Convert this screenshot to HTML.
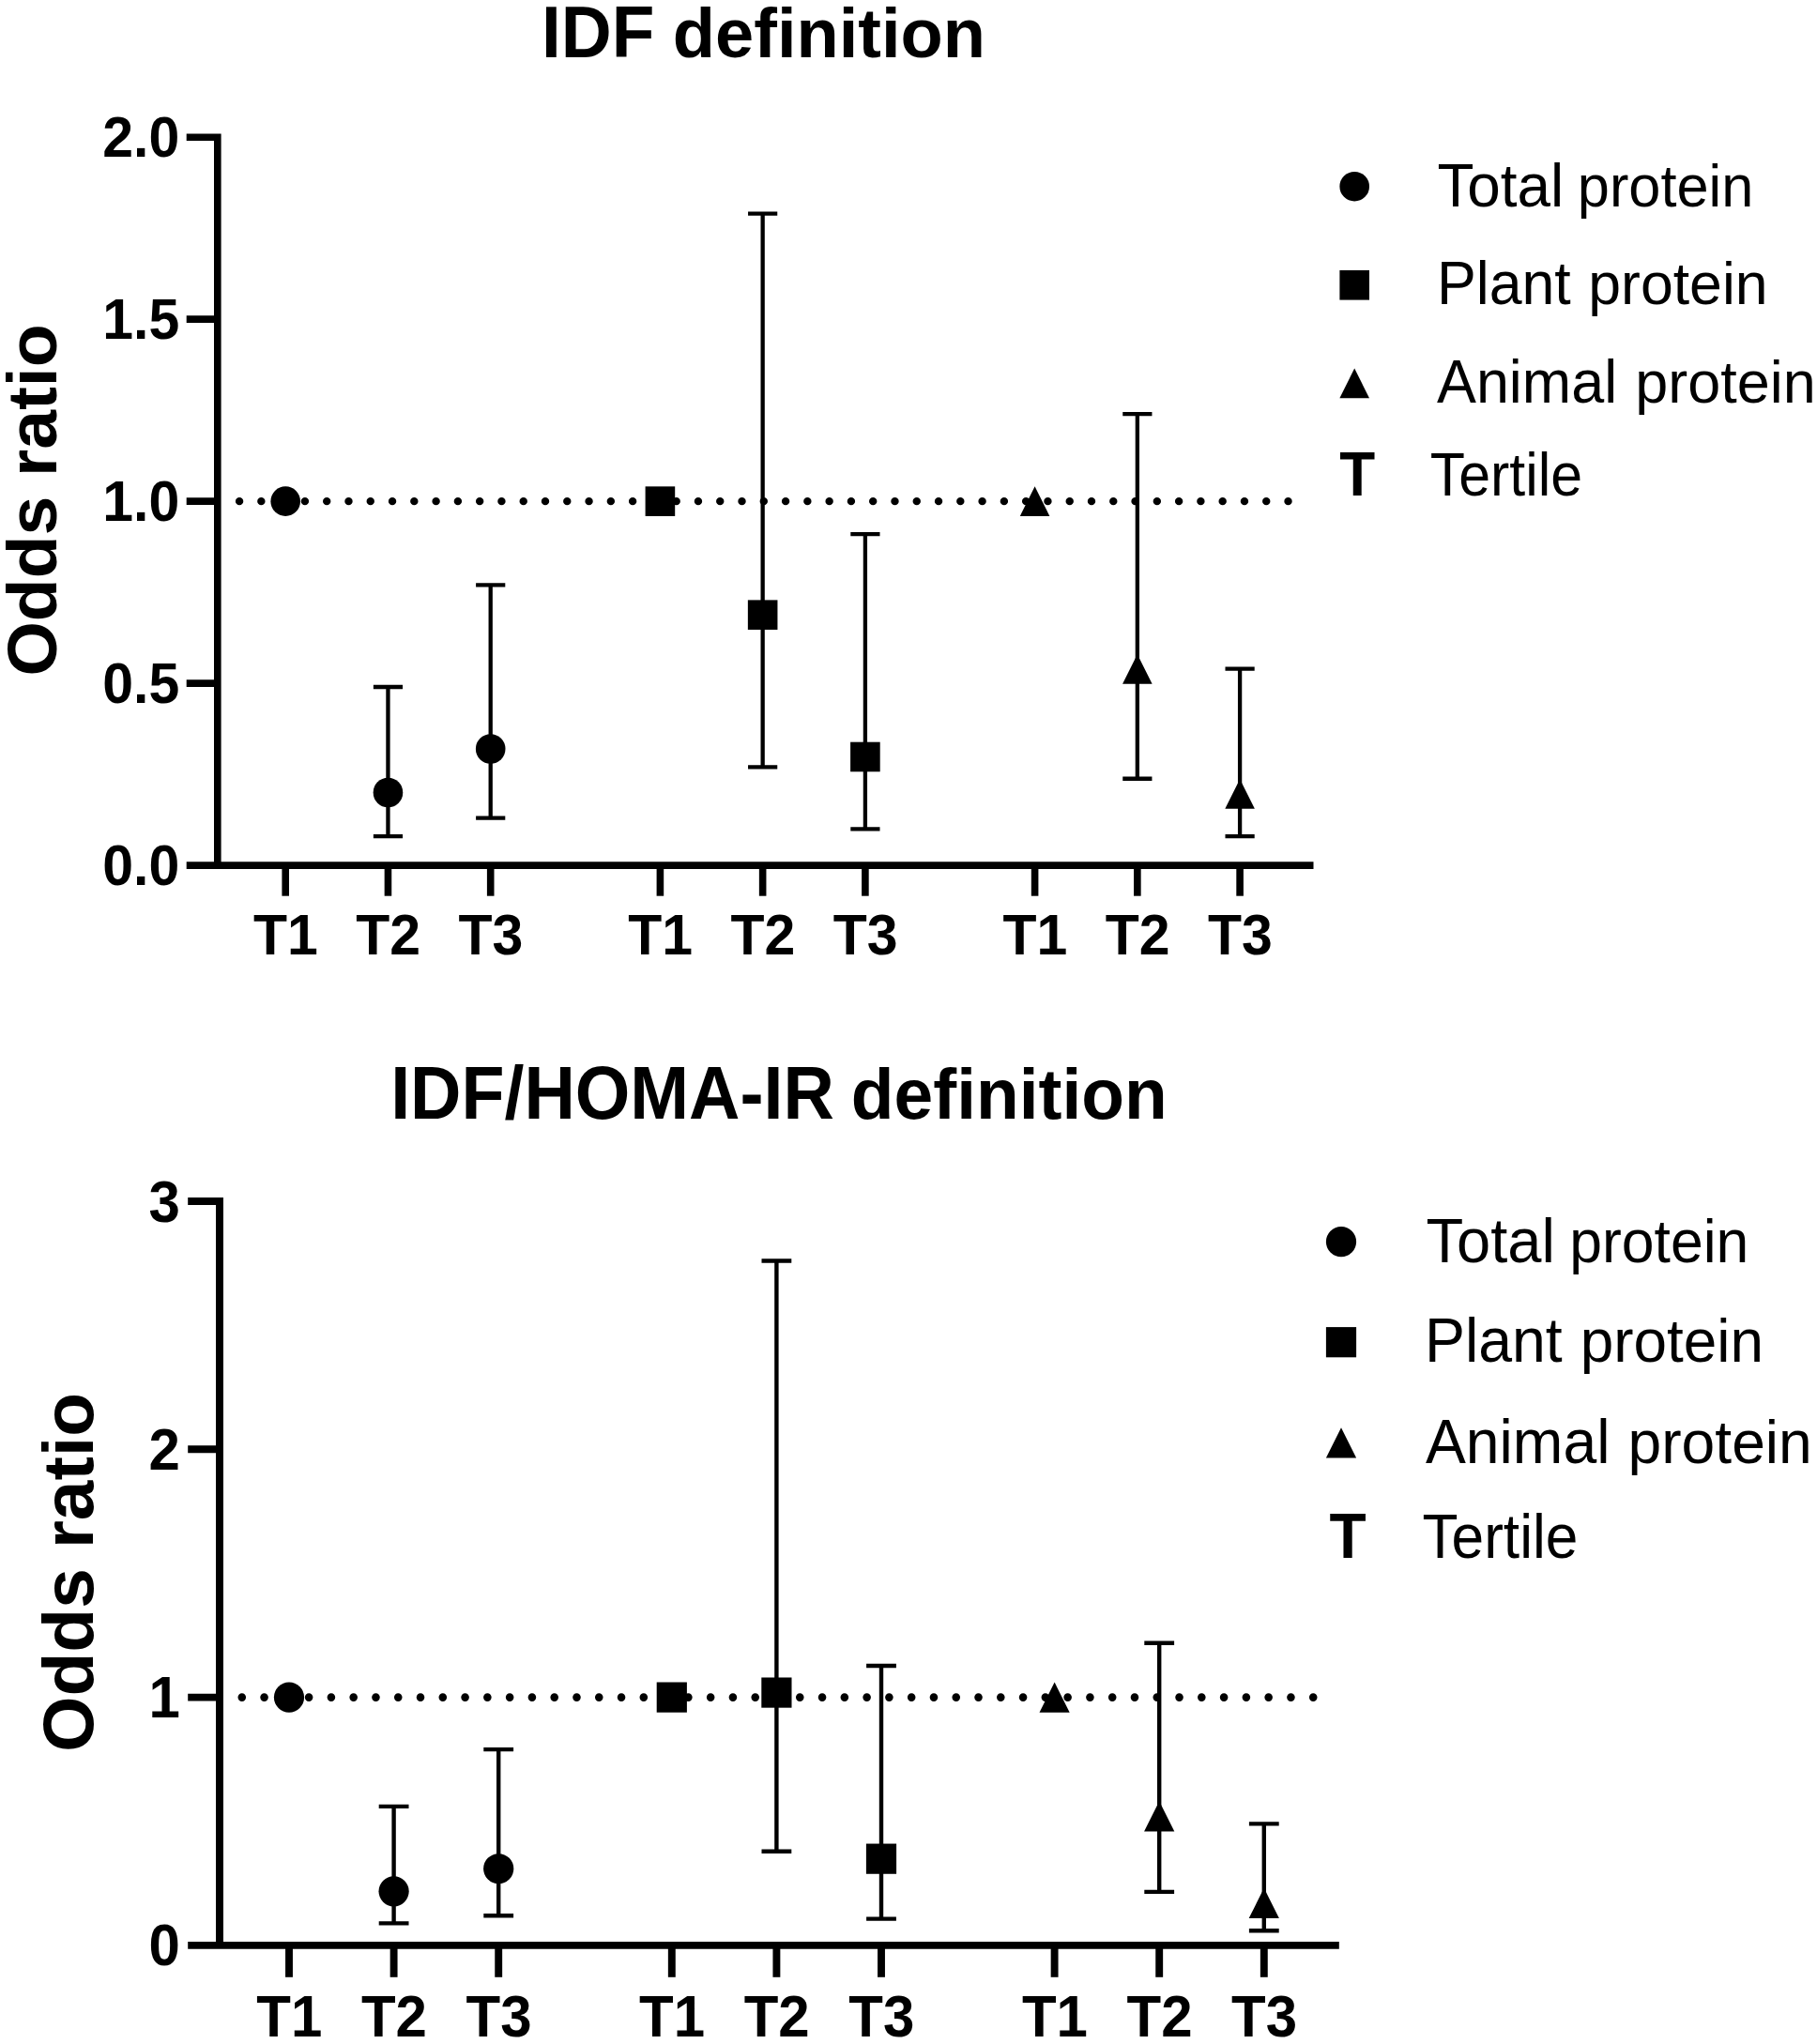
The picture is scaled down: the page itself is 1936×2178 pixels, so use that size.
<!DOCTYPE html>
<html lang="en"><head><meta charset="utf-8"><title>Odds ratio by protein tertile</title>
<style>html,body{margin:0;padding:0;background:#fff}svg{display:block}text{fill:#000}.t{font-family:"Liberation Sans",sans-serif}</style></head><body>
<svg xmlns="http://www.w3.org/2000/svg" width="1936" height="2178" viewBox="0 0 1936 2178">
<rect width="1936" height="2178" fill="#fff"/>
<g id="plot-idf">
<line x1="255.08" y1="534.15" x2="1372.53" y2="534.15" stroke="#000" stroke-width="8.4" stroke-linecap="round" stroke-dasharray="0 23.28"/>
<circle cx="304.20" cy="534.15" r="15.80" fill="#000"/>
<path d="M413.45 732.00V891.06M397.85 732.00H429.05M397.85 891.06H429.05" stroke="#000" stroke-width="4.3" fill="none"/>
<circle cx="413.45" cy="844.51" r="15.80" fill="#000"/>
<path d="M522.70 623.38V871.67M507.10 623.38H538.30M507.10 871.67H538.30" stroke="#000" stroke-width="4.3" fill="none"/>
<circle cx="522.70" cy="797.96" r="15.80" fill="#000"/>
<rect x="687.60" y="518.35" width="31.60" height="31.60" fill="#000"/>
<path d="M812.65 227.67V817.35M797.05 227.67H828.25M797.05 817.35H828.25" stroke="#000" stroke-width="4.3" fill="none"/>
<rect x="796.85" y="639.39" width="31.60" height="31.60" fill="#000"/>
<path d="M921.90 569.07V883.31M906.30 569.07H937.50M906.30 883.31H937.50" stroke="#000" stroke-width="4.3" fill="none"/>
<rect x="906.10" y="790.69" width="31.60" height="31.60" fill="#000"/>
<path d="M1102.60 518.35L1118.40 549.95H1086.80Z" fill="#000"/>
<path d="M1211.85 441.04V829.77M1196.25 441.04H1227.45M1196.25 829.77H1227.45" stroke="#000" stroke-width="4.3" fill="none"/>
<path d="M1211.85 697.19L1227.65 728.79H1196.05Z" fill="#000"/>
<path d="M1321.10 712.61V891.06M1305.50 712.61H1336.70M1305.50 891.06H1336.70" stroke="#000" stroke-width="4.3" fill="none"/>
<path d="M1321.10 830.26L1336.90 861.86H1305.30Z" fill="#000"/>
<path d="M198.70 146.20H231.80V922.10M198.70 922.10H1399.50" stroke="#000" stroke-width="7.6" fill="none" stroke-linejoin="miter"/>
<text transform="translate(191.20 943.10) scale(1 1.025)" class="t" font-weight="700" font-size="59" text-anchor="end">0.0</text>
<line x1="198.70" y1="728.12" x2="231.80" y2="728.12" stroke="#000" stroke-width="7.6"/>
<text transform="translate(191.20 749.12) scale(1 1.025)" class="t" font-weight="700" font-size="59" text-anchor="end">0.5</text>
<line x1="198.70" y1="534.15" x2="231.80" y2="534.15" stroke="#000" stroke-width="7.6"/>
<text transform="translate(191.20 555.15) scale(1 1.025)" class="t" font-weight="700" font-size="59" text-anchor="end">1.0</text>
<line x1="198.70" y1="340.17" x2="231.80" y2="340.17" stroke="#000" stroke-width="7.6"/>
<text transform="translate(191.20 361.17) scale(1 1.025)" class="t" font-weight="700" font-size="59" text-anchor="end">1.5</text>
<text transform="translate(191.20 167.20) scale(1 1.025)" class="t" font-weight="700" font-size="59" text-anchor="end">2.0</text>
<line x1="304.20" y1="922.10" x2="304.20" y2="954.70" stroke="#000" stroke-width="7.6"/>
<text transform="translate(304.50 1017.00) scale(1 1.025)" class="t" font-weight="700" font-size="59" text-anchor="middle">T1</text>
<line x1="413.45" y1="922.10" x2="413.45" y2="954.70" stroke="#000" stroke-width="7.6"/>
<text transform="translate(413.75 1017.00) scale(1 1.025)" class="t" font-weight="700" font-size="59" text-anchor="middle">T2</text>
<line x1="522.70" y1="922.10" x2="522.70" y2="954.70" stroke="#000" stroke-width="7.6"/>
<text transform="translate(523.00 1017.00) scale(1 1.025)" class="t" font-weight="700" font-size="59" text-anchor="middle">T3</text>
<line x1="703.40" y1="922.10" x2="703.40" y2="954.70" stroke="#000" stroke-width="7.6"/>
<text transform="translate(703.70 1017.00) scale(1 1.025)" class="t" font-weight="700" font-size="59" text-anchor="middle">T1</text>
<line x1="812.65" y1="922.10" x2="812.65" y2="954.70" stroke="#000" stroke-width="7.6"/>
<text transform="translate(812.95 1017.00) scale(1 1.025)" class="t" font-weight="700" font-size="59" text-anchor="middle">T2</text>
<line x1="921.90" y1="922.10" x2="921.90" y2="954.70" stroke="#000" stroke-width="7.6"/>
<text transform="translate(922.20 1017.00) scale(1 1.025)" class="t" font-weight="700" font-size="59" text-anchor="middle">T3</text>
<line x1="1102.60" y1="922.10" x2="1102.60" y2="954.70" stroke="#000" stroke-width="7.6"/>
<text transform="translate(1102.90 1017.00) scale(1 1.025)" class="t" font-weight="700" font-size="59" text-anchor="middle">T1</text>
<line x1="1211.85" y1="922.10" x2="1211.85" y2="954.70" stroke="#000" stroke-width="7.6"/>
<text transform="translate(1212.15 1017.00) scale(1 1.025)" class="t" font-weight="700" font-size="59" text-anchor="middle">T2</text>
<line x1="1321.10" y1="922.10" x2="1321.10" y2="954.70" stroke="#000" stroke-width="7.6"/>
<text transform="translate(1321.40 1017.00) scale(1 1.025)" class="t" font-weight="700" font-size="59" text-anchor="middle">T3</text>
<text transform="translate(0 61.00)" class="t" font-weight="700" font-size="75"><tspan x="576.97" font-size="78" textLength="120.42" lengthAdjust="spacingAndGlyphs">IDF</tspan> <tspan x="716.84" textLength="333.29" lengthAdjust="spacingAndGlyphs">definition</tspan></text>
<text transform="translate(60.30 533.00) rotate(-90)" class="t" font-weight="700" font-size="75" text-anchor="middle">Odds ratio</text>
<circle cx="1443.20" cy="198.70" r="15.80" fill="#000"/>
<rect x="1427.40" y="288.00" width="31.60" height="31.60" fill="#000"/>
<path d="M1443.20 392.60L1459.00 424.20H1427.40Z" fill="#000"/>
<text transform="translate(0 219.60)" class="t" font-size="62.4"><tspan x="1531.42" font-size="64.5" textLength="134.79" lengthAdjust="spacingAndGlyphs">Total</tspan> <tspan x="1680.87" textLength="187.39" lengthAdjust="spacingAndGlyphs">protein</tspan></text>
<text transform="translate(0 324.40)" class="t" font-size="62.4"><tspan x="1530.90" font-size="64.5" textLength="142.90" lengthAdjust="spacingAndGlyphs">Plant</tspan> <tspan x="1692.29" textLength="191.36" lengthAdjust="spacingAndGlyphs">protein</tspan></text>
<text transform="translate(0 429.40)" class="t" font-size="62.4"><tspan x="1530.96" font-size="64.5" textLength="192.14" lengthAdjust="spacingAndGlyphs">Animal</tspan> <tspan x="1742.37" textLength="192.40" lengthAdjust="spacingAndGlyphs">protein</tspan></text>
<text transform="translate(0 528.00)" class="t" font-size="62.4"><tspan x="1523.78" font-size="64.5" textLength="162.47" lengthAdjust="spacingAndGlyphs">Tertile</tspan></text>
<text transform="translate(0 528.00)" class="t" font-weight="700" font-size="66.2"><tspan x="1427.30" textLength="37.95" lengthAdjust="spacingAndGlyphs">T</tspan></text>
</g>
<g id="plot-idf-homa">
<line x1="257.78" y1="1808.60" x2="1399.23" y2="1808.60" stroke="#000" stroke-width="8.6" stroke-linecap="round" stroke-dasharray="0 23.78"/>
<circle cx="308.00" cy="1808.60" r="16.10" fill="#000"/>
<path d="M419.60 1924.89V2049.38M403.70 1924.89H435.50M403.70 2049.38H435.50" stroke="#000" stroke-width="4.4" fill="none"/>
<circle cx="419.60" cy="2015.28" r="16.10" fill="#000"/>
<path d="M531.20 1864.10V2041.18M515.30 1864.10H547.10M515.30 2041.18H547.10" stroke="#000" stroke-width="4.4" fill="none"/>
<circle cx="531.20" cy="1991.23" r="16.10" fill="#000"/>
<rect x="699.70" y="1792.50" width="32.20" height="32.20" fill="#000"/>
<path d="M827.40 1343.43V1972.73M811.50 1343.43H843.30M811.50 1972.73H843.30" stroke="#000" stroke-width="4.4" fill="none"/>
<rect x="811.30" y="1787.48" width="32.20" height="32.20" fill="#000"/>
<path d="M939.00 1775.03V2044.62M923.10 1775.03H954.90M923.10 2044.62H954.90" stroke="#000" stroke-width="4.4" fill="none"/>
<rect x="922.90" y="1964.56" width="32.20" height="32.20" fill="#000"/>
<path d="M1123.60 1792.50L1139.70 1824.70H1107.50Z" fill="#000"/>
<path d="M1235.20 1750.72V2015.89M1219.30 1750.72H1251.10M1219.30 2015.89H1251.10" stroke="#000" stroke-width="4.4" fill="none"/>
<path d="M1235.20 1919.36L1251.30 1951.56H1219.10Z" fill="#000"/>
<path d="M1346.80 1943.39V2057.31M1330.90 1943.39H1362.70M1330.90 2057.31H1362.70" stroke="#000" stroke-width="4.4" fill="none"/>
<path d="M1346.80 2011.87L1362.90 2044.07H1330.70Z" fill="#000"/>
<path d="M200.20 1280.00H234.00V2072.90M200.20 2072.90H1426.80" stroke="#000" stroke-width="7.9" fill="none" stroke-linejoin="miter"/>
<text transform="translate(192.00 2094.40) scale(1 1.045)" class="t" font-weight="700" font-size="60" text-anchor="end">0</text>
<line x1="200.20" y1="1808.60" x2="234.00" y2="1808.60" stroke="#000" stroke-width="7.9"/>
<text transform="translate(192.00 1830.10) scale(1 1.045)" class="t" font-weight="700" font-size="60" text-anchor="end">1</text>
<line x1="200.20" y1="1544.30" x2="234.00" y2="1544.30" stroke="#000" stroke-width="7.9"/>
<text transform="translate(192.00 1565.80) scale(1 1.045)" class="t" font-weight="700" font-size="60" text-anchor="end">2</text>
<text transform="translate(192.00 1301.50) scale(1 1.045)" class="t" font-weight="700" font-size="60" text-anchor="end">3</text>
<line x1="308.00" y1="2072.90" x2="308.00" y2="2106.80" stroke="#000" stroke-width="7.9"/>
<text transform="translate(308.30 2170.30) scale(1 1.045)" class="t" font-weight="700" font-size="60" text-anchor="middle">T1</text>
<line x1="419.60" y1="2072.90" x2="419.60" y2="2106.80" stroke="#000" stroke-width="7.9"/>
<text transform="translate(419.90 2170.30) scale(1 1.045)" class="t" font-weight="700" font-size="60" text-anchor="middle">T2</text>
<line x1="531.20" y1="2072.90" x2="531.20" y2="2106.80" stroke="#000" stroke-width="7.9"/>
<text transform="translate(531.50 2170.30) scale(1 1.045)" class="t" font-weight="700" font-size="60" text-anchor="middle">T3</text>
<line x1="715.80" y1="2072.90" x2="715.80" y2="2106.80" stroke="#000" stroke-width="7.9"/>
<text transform="translate(716.10 2170.30) scale(1 1.045)" class="t" font-weight="700" font-size="60" text-anchor="middle">T1</text>
<line x1="827.40" y1="2072.90" x2="827.40" y2="2106.80" stroke="#000" stroke-width="7.9"/>
<text transform="translate(827.70 2170.30) scale(1 1.045)" class="t" font-weight="700" font-size="60" text-anchor="middle">T2</text>
<line x1="939.00" y1="2072.90" x2="939.00" y2="2106.80" stroke="#000" stroke-width="7.9"/>
<text transform="translate(939.30 2170.30) scale(1 1.045)" class="t" font-weight="700" font-size="60" text-anchor="middle">T3</text>
<line x1="1123.60" y1="2072.90" x2="1123.60" y2="2106.80" stroke="#000" stroke-width="7.9"/>
<text transform="translate(1123.90 2170.30) scale(1 1.045)" class="t" font-weight="700" font-size="60" text-anchor="middle">T1</text>
<line x1="1235.20" y1="2072.90" x2="1235.20" y2="2106.80" stroke="#000" stroke-width="7.9"/>
<text transform="translate(1235.50 2170.30) scale(1 1.045)" class="t" font-weight="700" font-size="60" text-anchor="middle">T2</text>
<line x1="1346.80" y1="2072.90" x2="1346.80" y2="2106.80" stroke="#000" stroke-width="7.9"/>
<text transform="translate(1347.10 2170.30) scale(1 1.045)" class="t" font-weight="700" font-size="60" text-anchor="middle">T3</text>
<text transform="translate(0 1192.30)" class="t" font-weight="700" font-size="76.6"><tspan x="416.13" font-size="79.6" textLength="472.79" lengthAdjust="spacingAndGlyphs">IDF/HOMA-IR</tspan> <tspan x="906.82" textLength="336.93" lengthAdjust="spacingAndGlyphs">definition</tspan></text>
<text transform="translate(99.00 1675.50) rotate(-90)" class="t" font-weight="700" font-size="76.6" text-anchor="middle">Odds ratio</text>
<circle cx="1429.00" cy="1323.20" r="16.10" fill="#000"/>
<rect x="1412.90" y="1414.10" width="32.20" height="32.20" fill="#000"/>
<path d="M1429.00 1521.30L1445.10 1553.50H1412.90Z" fill="#000"/>
<text transform="translate(0 1344.90)" class="t" font-size="64.0"><tspan x="1519.43" font-size="66.3" textLength="137.43" lengthAdjust="spacingAndGlyphs">Total</tspan> <tspan x="1672.25" textLength="191.04" lengthAdjust="spacingAndGlyphs">protein</tspan></text>
<text transform="translate(0 1451.40)" class="t" font-size="64.0"><tspan x="1517.96" font-size="66.3" textLength="146.81" lengthAdjust="spacingAndGlyphs">Plant</tspan> <tspan x="1683.66" textLength="195.32" lengthAdjust="spacingAndGlyphs">protein</tspan></text>
<text transform="translate(0 1558.70)" class="t" font-size="64.0"><tspan x="1518.96" font-size="66.3" textLength="196.52" lengthAdjust="spacingAndGlyphs">Animal</tspan> <tspan x="1734.54" textLength="196.26" lengthAdjust="spacingAndGlyphs">protein</tspan></text>
<text transform="translate(0 1659.70)" class="t" font-size="64.0"><tspan x="1515.39" font-size="66.3" textLength="166.09" lengthAdjust="spacingAndGlyphs">Tertile</tspan></text>
<text transform="translate(0 1659.90)" class="t" font-weight="700" font-size="68.0"><tspan x="1416.59" textLength="39.16" lengthAdjust="spacingAndGlyphs">T</tspan></text>
</g>
</svg></body></html>
